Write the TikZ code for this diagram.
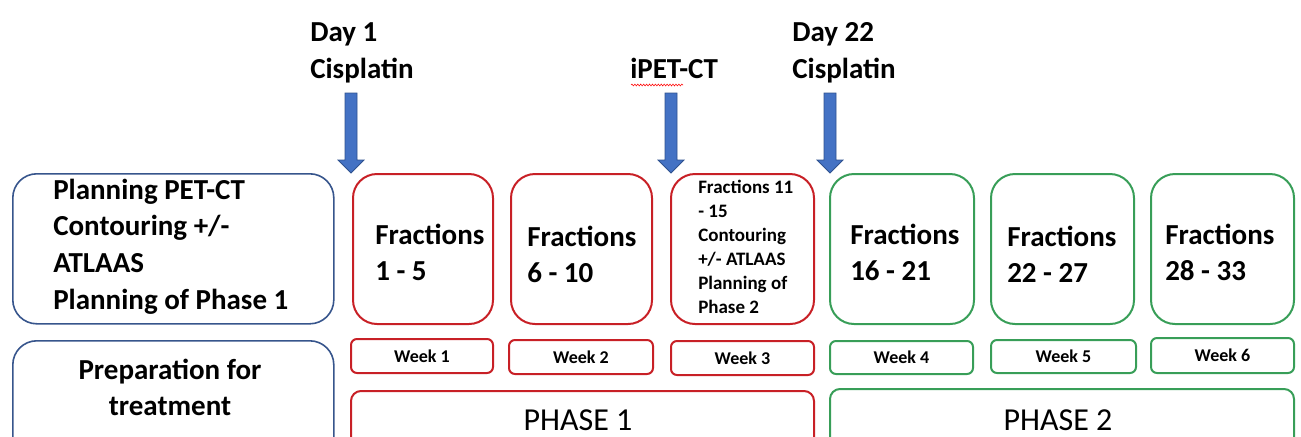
\documentclass[tikz,border=0pt]{standalone}
\usepackage{fontspec}
\setmainfont{Carlito}
\usetikzlibrary{decorations.pathmorphing}
\newlength\pu \setlength\pu{0.75pt}
\definecolor{redb}{RGB}{200,32,38}
\definecolor{greenb}{RGB}{56,158,88}
\definecolor{blueb}{RGB}{55,85,140}
\definecolor{arrowfill}{RGB}{68,114,196}
\definecolor{arrowline}{RGB}{47,82,143}
\begin{document}
\begin{tikzpicture}[x=0.75pt,y=-0.75pt,
  box/.style={draw, anchor=north west, inner sep=0pt, line width=1.5pt},
  bigbox/.style={box, rounded corners=24\pu, minimum height=150\pu},
  leftbox/.style={box, draw=blueb, line width=1.2pt, rounded corners=24\pu},
  redbox/.style={bigbox, draw=redb},
  greenbox/.style={bigbox, draw=greenb},
  weekbox/.style={box, rounded corners=6\pu, font=\bfseries\fontsize{13.5}{16}\selectfont},
  phasebox/.style={box, rounded corners=10\pu, minimum height=80\pu},
  lbl/.style={anchor=base west, inner sep=0pt, font=\bfseries\fontsize{21.75}{26}\selectfont},
  fraclbl/.style={anchor=base west, inner sep=0pt, align=left, font=\bfseries\fontsize{21.75}{27}\selectfont},
  smalllbl/.style={anchor=base west, inner sep=0pt, align=left, font=\bfseries\fontsize{14.25}{18}\selectfont},
  phaselbl/.style={anchor=base, inner sep=0pt, font=\fontsize{24}{28}\selectfont},
  blockarrow/.style={fill=arrowfill, draw=arrowline, line width=0.6pt}
]
\useasboundingbox (0,0) rectangle (1301,436);
\clip (0,0) rectangle (1301,436);

% left boxes
\node[leftbox, minimum width=321\pu, minimum height=150\pu] (plan) at (12,173) {};
\node[leftbox, minimum width=321\pu, minimum height=130\pu] (prep) at (12,340) {};
\node[lbl, align=left, font=\bfseries\fontsize{21.75}{27.5}\selectfont] (plantxt) at (53,309)
  {Planning PET-CT\\Contouring +/-\\ATLAAS\\Planning of Phase 1};
\node[lbl, align=center, anchor=base, font=\bfseries\fontsize{21.75}{27}\selectfont] (preptxt) at (170,415)
  {Preparation for\\treatment};

% fraction boxes
\node[redbox, minimum width=140\pu] (f1) at (352,173) {};
\node[redbox, minimum width=141\pu] (f2) at (510,173) {};
\node[redbox, minimum width=143\pu] (f3) at (670,173) {};
\node[greenbox, minimum width=144\pu] (f4) at (829,173) {};
\node[greenbox, minimum width=143\pu] (f5) at (990,173) {};
\node[greenbox, minimum width=143\pu] (f6) at (1150,173) {};

\node[fraclbl] (t1) at (375,280) {Fractions\\1 - 5};
\node[fraclbl] (t2) at (527,282) {Fractions\\6 - 10};
\node[smalllbl] (t3) at (698,313) {Fractions 11\\- 15\\Contouring\\+/- ATLAAS\\Planning of\\Phase 2};
\node[fraclbl] (t4) at (850,280) {Fractions\\16 - 21};
\node[fraclbl] (t5) at (1007,282) {Fractions\\22 - 27};
\node[fraclbl] (t6) at (1165,280) {Fractions\\28 - 33};

% week boxes
\node[weekbox, draw=redb, minimum width=142\pu, minimum height=34\pu] (w1) at (350,338) {Week 1};
\node[weekbox, draw=redb, minimum width=144\pu, minimum height=34\pu] (w2) at (508,339) {Week 2};
\node[weekbox, draw=redb, minimum width=143\pu, minimum height=34\pu] (w3) at (670,340) {Week 3};
\node[weekbox, draw=greenb, minimum width=143\pu, minimum height=33\pu] (w4) at (829,340) {Week 4};
\node[weekbox, draw=greenb, minimum width=145\pu, minimum height=33\pu] (w5) at (990,339) {Week 5};
\node[weekbox, draw=greenb, minimum width=143\pu, minimum height=35\pu] (w6) at (1150,337) {Week 6};

% phase boxes
\node[phasebox, draw=redb, minimum width=463\pu] (p1) at (350,390) {};
\node[phasebox, draw=greenb, minimum width=464\pu] (p2) at (829,388) {};
\node[phaselbl] (p1txt) at (578,430) {PHASE 1};
\node[phaselbl] (p2txt) at (1058,430) {PHASE 2};

% top labels
\node[lbl] (day1) at (310,41) {Day 1};
\node[lbl] (cis1) at (310,78) {Cisplatin};
\node[lbl] (ipet) at (630,78) {iPET-CT};
\node[lbl] (day22) at (792,41) {Day 22};
\node[lbl] (cis2) at (792,78) {Cisplatin};
\draw[red, line width=0.4pt, decorate, decoration={snake, amplitude=0.7pt, segment length=2.2pt}] (631,85) -- (683,85);

% block arrows
\foreach \c in {351,671,830}{
  \draw[blockarrow] (\c-6,93) -- (\c+6,93) -- (\c+6,160) -- (\c+13,160) -- (\c,173)
    -- (\c-13,160) -- (\c-6,160) -- cycle;
}
\end{tikzpicture}
\end{document}
